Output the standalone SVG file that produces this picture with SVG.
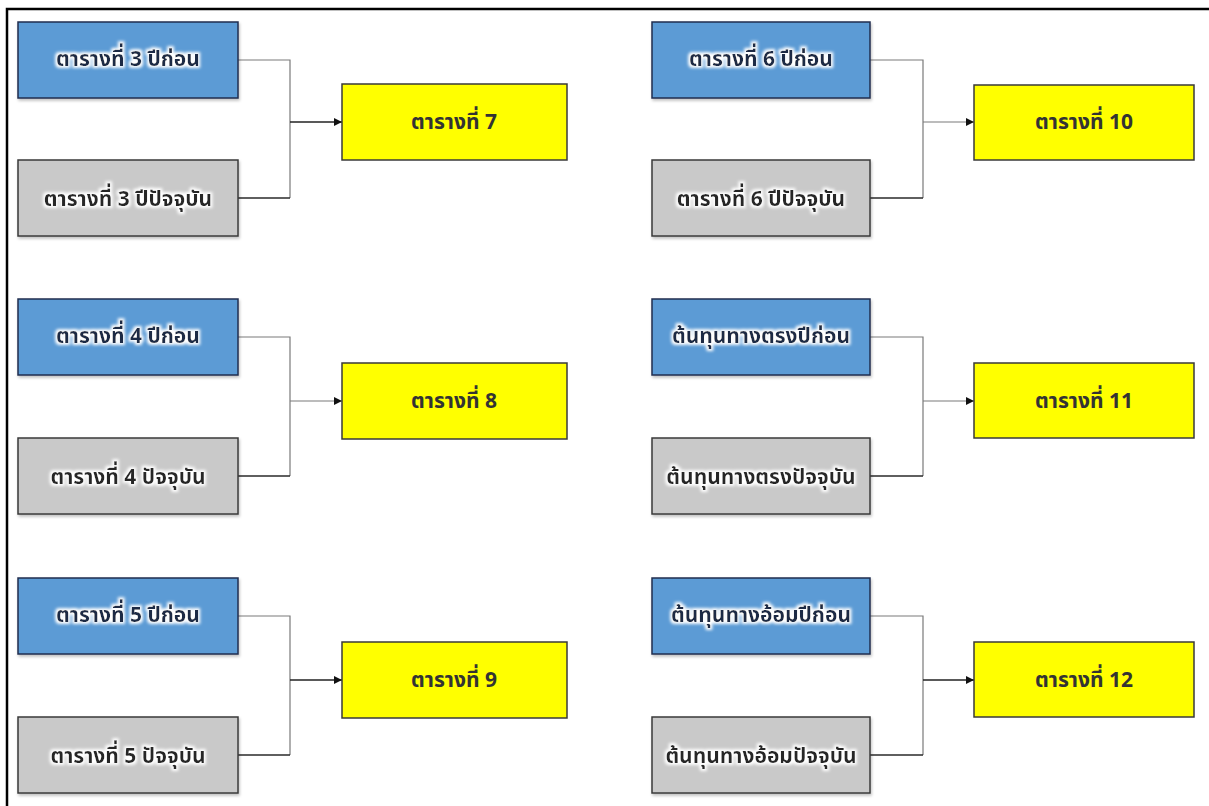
<svg xmlns="http://www.w3.org/2000/svg" width="1209" height="806" viewBox="0 0 1209 806">
<style>
.blue{fill:#5b9bd5;stroke:#1f2f4f;stroke-width:1.5}
.gray{fill:#c9c9c9;stroke:#3a3a3a;stroke-width:1.5}
.yel{fill:#ffff00;stroke:#3a3a3a;stroke-width:1.5}
.t{font-family:"Noto Sans Thai","Noto Sans",Tahoma,"DejaVu Sans",sans-serif;font-weight:bold;font-size:21px;text-anchor:middle;dominant-baseline:central}
.tb{fill:#1b2a44}
.tg{fill:#262626}
.ty{fill:#333333}
.c1{fill:none;stroke:#7a7a7a;stroke-width:1.2}
.c2{fill:none;stroke:#2a2a2a;stroke-width:1.5}
.ar{fill:none;stroke:#222;stroke-width:1.5}
</style>
<defs>
<filter id="glow" x="-10%" y="-30%" width="120%" height="160%">
<feMorphology in="SourceAlpha" operator="dilate" radius="1.5" result="d"/>
<feGaussianBlur in="d" stdDeviation="1.5" result="b"/>
<feFlood flood-color="#ffffff"/>
<feComposite in2="b" operator="in" result="g"/>
<feMerge><feMergeNode in="g"/><feMergeNode in="SourceGraphic"/></feMerge>
</filter>
<filter id="sh" x="-5%" y="-10%" width="115%" height="130%">
<feGaussianBlur in="SourceAlpha" stdDeviation="1.5"/>
<feOffset dx="1" dy="2" result="o"/>
<feComponentTransfer><feFuncA type="linear" slope="0.25"/></feComponentTransfer>
<feMerge><feMergeNode/><feMergeNode in="SourceGraphic"/></feMerge>
</filter>
<marker id="arr" viewBox="0 0 10 10" refX="10" refY="5" markerWidth="8" markerHeight="8" markerUnits="userSpaceOnUse" orient="auto">
<path d="M0,0 L10,5 L0,10 z" fill="#111"/>
</marker>
</defs>
<rect width="1209" height="806" fill="#ffffff"/>
<rect x="7" y="9" width="1215" height="810" fill="none" stroke="#000" stroke-width="2.5"/>

<g id="connectors">
<path class="c1" d="M238,60 H290 V198"/><path class="c2" d="M238,198 H290"/><path class="ar" d="M290,122 H342" marker-end="url(#arr)"/>
<path class="c1" d="M238,337 H290 V476"/><path class="c2" d="M238,476 H290"/><path class="c1" d="M290,401 H342" marker-end="url(#arr)"/>
<path class="c1" d="M238,616 H290 V755"/><path class="c2" d="M238,755 H290"/><path class="ar" d="M290,680 H342" marker-end="url(#arr)"/>
<path class="c1" d="M870,60 H923 V198"/><path class="c2" d="M870,198 H923"/><path class="c1" d="M923,122 H974" marker-end="url(#arr)"/>
<path class="c1" d="M870,337 H923 V476"/><path class="c2" d="M870,476 H923"/><path class="c1" d="M923,401 H974" marker-end="url(#arr)"/>
<path class="c1" d="M870,616 H923 V755"/><path class="c2" d="M870,755 H923"/><path class="ar" d="M923,680 H974" marker-end="url(#arr)"/>
</g>

<g id="n3prev"><rect class="blue" filter="url(#sh)" x="18" y="22" width="220" height="76"/><text class="t tb" filter="url(#glow)" x="128" y="59">ตารางที่ 3 ปีก่อน</text></g>
<g id="n3cur"><rect class="gray" filter="url(#sh)" x="18" y="160" width="220" height="76"/><text class="t tg" filter="url(#glow)" x="128" y="199">ตารางที่ 3 ปีปัจจุบัน</text></g>
<g id="n7"><rect class="yel" x="342" y="84" width="225" height="76"/><text class="t ty" x="454" y="122">ตารางที่ 7</text></g>

<g id="n4prev"><rect class="blue" filter="url(#sh)" x="18" y="299" width="220" height="76"/><text class="t tb" filter="url(#glow)" x="128" y="336">ตารางที่ 4 ปีก่อน</text></g>
<g id="n4cur"><rect class="gray" filter="url(#sh)" x="18" y="438" width="220" height="76"/><text class="t tg" filter="url(#glow)" x="128" y="477">ตารางที่ 4 ปัจจุบัน</text></g>
<g id="n8"><rect class="yel" x="342" y="363" width="225" height="76"/><text class="t ty" x="454" y="401">ตารางที่ 8</text></g>

<g id="n5prev"><rect class="blue" filter="url(#sh)" x="18" y="578" width="220" height="76"/><text class="t tb" filter="url(#glow)" x="128" y="615">ตารางที่ 5 ปีก่อน</text></g>
<g id="n5cur"><rect class="gray" filter="url(#sh)" x="18" y="717" width="220" height="76"/><text class="t tg" filter="url(#glow)" x="128" y="756">ตารางที่ 5 ปัจจุบัน</text></g>
<g id="n9"><rect class="yel" x="342" y="642" width="225" height="76"/><text class="t ty" x="454" y="680">ตารางที่ 9</text></g>

<g id="n6prev"><rect class="blue" filter="url(#sh)" x="652" y="22" width="218" height="76"/><text class="t tb" filter="url(#glow)" x="761" y="59">ตารางที่ 6 ปีก่อน</text></g>
<g id="n6cur"><rect class="gray" filter="url(#sh)" x="652" y="160" width="218" height="76"/><text class="t tg" filter="url(#glow)" x="761" y="199">ตารางที่ 6 ปีปัจจุบัน</text></g>
<g id="n10"><rect class="yel" x="974" y="85" width="220" height="75"/><text class="t ty" x="1084" y="122">ตารางที่ 10</text></g>

<g id="ndirprev"><rect class="blue" filter="url(#sh)" x="652" y="299" width="218" height="76"/><text class="t tb" filter="url(#glow)" x="761" y="336">ต้นทุนทางตรงปีก่อน</text></g>
<g id="ndircur"><rect class="gray" filter="url(#sh)" x="652" y="438" width="218" height="76"/><text class="t tg" filter="url(#glow)" x="761" y="477">ต้นทุนทางตรงปัจจุบัน</text></g>
<g id="n11"><rect class="yel" x="974" y="363" width="220" height="75"/><text class="t ty" x="1084" y="401">ตารางที่ 11</text></g>

<g id="nindprev"><rect class="blue" filter="url(#sh)" x="652" y="578" width="218" height="76"/><text class="t tb" filter="url(#glow)" x="761" y="615">ต้นทุนทางอ้อมปีก่อน</text></g>
<g id="nindcur"><rect class="gray" filter="url(#sh)" x="652" y="717" width="218" height="76"/><text class="t tg" filter="url(#glow)" x="761" y="756">ต้นทุนทางอ้อมปัจจุบัน</text></g>
<g id="n12"><rect class="yel" x="974" y="642" width="220" height="75"/><text class="t ty" x="1084" y="680">ตารางที่ 12</text></g>
</svg>
